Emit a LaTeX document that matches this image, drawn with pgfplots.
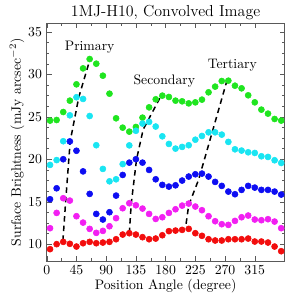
\documentclass[border=0pt]{standalone}
\usepackage{pgfplots}
\pgfplotsset{compat=1.18}
\usetikzlibrary{calc}
\definecolor{cgreen}{rgb}{0.12,0.90,0.12}
\definecolor{ccyan}{rgb}{0.10,0.90,0.95}
\definecolor{cblue}{rgb}{0.05,0.05,0.95}
\definecolor{cmag}{rgb}{0.95,0.12,0.95}
\definecolor{cred}{rgb}{0.95,0.05,0.05}
\begin{document}
\begin{tikzpicture}
\begin{axis}[
  scale only axis,
  width=173pt, height=173pt,
  xmin=0, xmax=360, ymin=8, ymax=36,
  xtick={0,45,90,135,180,225,270,315},
  ytick={10,15,20,25,30,35},
  minor x tick num=1,
  minor y tick num=3,
  tick align=inside,
  major tick length=3.5pt,
  minor tick length=2pt,
  axis line style={black!65},
  tick style={black!65},
  xlabel={Position Angle (degree)},
  ylabel={Surface Brightness (mJy arcsec$^{-2}$)},
  xlabel style={yshift=4pt},
  ylabel style={yshift=-4pt},
  clip=false,
]
\addplot[only marks, mark=*, mark size=2.2pt, color=cgreen] coordinates {
(5,24.55)(15,24.62)(25,25.56)(35,26.90)(45,28.82)(55,30.70)(65,31.80)(75,31.25)(85,29.84)(95,27.72)(105,24.82)(115,23.72)(125,23.25)(135,23.80)(145,24.90)(155,26.11)(165,27.06)(175,27.49)(185,27.33)(195,26.90)(205,26.82)(215,26.58)(225,26.70)(235,27.02)(245,27.88)(255,28.55)(265,29.21)(275,29.25)(285,28.66)(295,28.35)(305,27.53)(315,26.70)(325,25.84)(335,25.37)(345,24.74)(355,24.55)};
\addplot[only marks, mark=*, mark size=2.2pt, color=ccyan] coordinates {
(5,19.33)(15,19.90)(25,22.12)(35,25.17)(45,27.30)(55,27.10)(65,25.09)(75,21.65)(85,18.86)(95,17.40)(105,17.64)(115,19.43)(125,21.63)(135,23.35)(145,24.20)(155,24.40)(165,23.85)(175,22.70)(185,21.80)(195,21.25)(205,21.45)(215,21.65)(225,22.30)(235,22.74)(245,23.17)(255,23.17)(265,22.90)(275,22.04)(285,21.17)(295,21.02)(305,20.82)(315,20.74)(325,20.35)(335,20.27)(345,19.88)(355,19.56)};
\addplot[only marks, mark=*, mark size=2.2pt, color=cblue] coordinates {
(5,15.29)(15,16.58)(25,20.00)(35,22.10)(45,21.00)(55,18.57)(65,15.92)(75,13.56)(85,12.90)(95,13.76)(105,15.72)(115,18.15)(125,19.60)(135,20.00)(145,19.60)(155,18.74)(165,17.64)(175,16.98)(185,16.78)(195,16.93)(205,17.49)(215,17.96)(225,18.23)(235,18.31)(245,17.96)(255,17.33)(265,16.86)(275,16.19)(285,15.88)(295,16.39)(305,16.86)(315,16.66)(325,16.39)(335,16.39)(345,16.19)(355,15.84)};
\addplot[only marks, mark=*, mark size=2.2pt, color=cmag] coordinates {
(5,11.88)(15,13.68)(25,15.41)(35,15.13)(45,13.29)(55,12.54)(65,11.80)(75,11.33)(85,11.56)(95,12.11)(105,13.06)(115,14.23)(125,14.82)(135,14.58)(145,14.19)(155,13.56)(165,12.97)(175,13.17)(185,13.68)(195,14.11)(205,14.54)(215,14.78)(225,14.43)(235,14.00)(245,13.29)(255,12.70)(265,12.35)(275,12.27)(285,12.74)(295,13.17)(305,13.37)(315,12.90)(325,12.82)(335,12.94)(345,12.66)(355,11.88)};
\addplot[only marks, mark=*, mark size=2.2pt, color=cred] coordinates {
(5,9.41)(15,10.00)(25,10.27)(35,10.04)(45,9.72)(55,10.11)(65,10.27)(75,10.11)(85,10.19)(95,10.27)(105,10.58)(115,11.13)(125,11.29)(135,11.13)(145,10.82)(155,10.58)(165,10.66)(175,11.05)(185,11.53)(195,11.60)(205,11.68)(215,11.80)(225,11.29)(235,10.98)(245,10.58)(255,10.43)(265,10.43)(275,10.58)(285,10.58)(295,10.58)(305,10.66)(315,10.31)(325,10.31)(335,10.19)(345,9.72)(355,9.17)};
\addplot[black, line width=1.1pt, dash pattern=on 4pt off 3pt] coordinates {
(24.5,10.4)(29,15.4)(35.5,22.1)(48.5,27.3)(66,31.9)};
\addplot[black, line width=1.1pt, dash pattern=on 4pt off 3pt] coordinates {
(125,11.3)(128,14.8)(136,20.0)(146,23.5)(174,27.6)};
\addplot[black, line width=1.1pt, dash pattern=on 4pt off 3pt] coordinates {
(211,12.4)(215,14.6)(230,17.6)(273,29.3)};
\node at (axis cs:65,33.2) {Primary};
\node at (axis cs:178,29.2) {Secondary};
\node at (axis cs:281,31.1) {Tertiary};
\node[anchor=base, inner sep=0pt, font=\fontsize{11.6}{14}\selectfont] at ([yshift=5.3pt]rel axis cs:0.5,1) {1MJ-H10, Convolved Image};
\end{axis}
\pgfresetboundingbox
\path[use as bounding box] ($(current axis.south west)+(-34pt,-29pt)$) rectangle ($(current axis.north east)+(5.8pt,17pt)$);
\end{tikzpicture}
\end{document}
